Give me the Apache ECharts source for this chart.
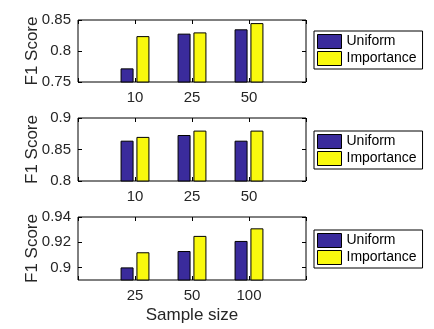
<!DOCTYPE html>
<html><head><meta charset="utf-8">
<script src="https://cdn.jsdelivr.net/npm/echarts@6/dist/echarts.min.js"></script>
<style>html,body{margin:0;padding:0;background:#fff}#c{width:434px;height:329px}</style>
</head><body><div id="c"></div>
<script>
// ---- data ----
const cats1 = ['10', '25', '50'];
const cats2 = ['10', '25', '50'];
const cats3 = ['25', '50', '100'];
const uniform1 = [0.772, 0.828, 0.835];
const importance1 = [0.824, 0.830, 0.845];
const uniform2 = [0.864, 0.873, 0.864];
const importance2 = [0.870, 0.880, 0.880];
const uniform3 = [0.900, 0.913, 0.921];
const importance3 = [0.912, 0.925, 0.931];
const yTicks1 = [0.75, 0.8, 0.85];
const yTicks2 = [0.8, 0.85, 0.9];
const yTicks3 = [0.9, 0.92, 0.94];
const yRange1 = [0.75, 0.85];
const yRange2 = [0.8, 0.9];
const yRange3 = [0.89, 0.94];
const seriesNames = ['Uniform', 'Importance'];
const yTitle = 'F1 Score';
const xTitle = 'Sample size';

const TXT = '#262626';
const FONT = 'Liberation Sans, Arial, sans-serif';
const colors = ['#3a2b9c', '#f9f90e'];
const panels = [
  {cats: cats1, u: uniform1, im: importance1, ticks: yTicks1, range: yRange1, top: 20, h: 62, legTop: 31},
  {cats: cats2, u: uniform2, im: importance2, ticks: yTicks2, range: yRange2, top: 118, h: 63, legTop: 131},
  {cats: cats3, u: uniform3, im: importance3, ticks: yTicks3, range: yRange3, top: 217, h: 63, legTop: 230}
];
const pad = a => [null].concat(a, [null]);

const grid = [], xAxis = [], yAxis = [], series = [], legend = [], graphic = [];
panels.forEach((p, i) => {
  grid.push({left: 78, top: p.top, width: 228, height: p.h, show: true, borderColor: '#000', borderWidth: 1, backgroundColor: '#fff'});
  const catData = [''].concat(p.cats, ['']);
  xAxis.push({
    type: 'category', gridIndex: i, data: catData, boundaryGap: false, position: 'bottom',
    axisLine: {show: false},
    axisTick: {show: true, inside: true, length: 4, lineStyle: {color: '#000'}},
    axisLabel: {color: TXT, fontSize: 15, fontFamily: FONT, margin: 8}
  });
  xAxis.push({
    type: 'category', gridIndex: i, data: catData, boundaryGap: false, position: 'top',
    axisLine: {show: false},
    axisTick: {show: true, inside: true, length: 4, lineStyle: {color: '#000'}},
    axisLabel: {show: false}
  });
  const yBase = {
    type: 'value', gridIndex: i, min: p.range[0], max: p.range[1],
    splitLine: {show: false}, axisLine: {show: false}
  };
  yAxis.push(Object.assign({}, yBase, {
    position: 'left',
    axisTick: {show: true, inside: true, length: 4, lineStyle: {color: '#000'}, customValues: p.ticks},
    axisLabel: {color: TXT, fontSize: 15, fontFamily: FONT, margin: 7, customValues: p.ticks}
  }));
  yAxis.push(Object.assign({}, yBase, {
    position: 'right',
    axisTick: {show: true, inside: true, length: 4, lineStyle: {color: '#000'}, customValues: p.ticks},
    axisLabel: {show: false, customValues: p.ticks}
  }));
  [p.u, p.im].forEach((vals, k) => {
    series.push({
      type: 'bar', name: seriesNames[k], xAxisIndex: 2 * i, yAxisIndex: 2 * i,
      data: pad(vals), barWidth: 13, barGap: '22%',
      itemStyle: {color: colors[k], borderColor: '#000', borderWidth: 1},
      animation: false, silent: true
    });
  });
  legend.push({
    left: 314, top: p.legTop, orient: 'vertical', data: seriesNames,
    icon: 'rect', itemWidth: 24, itemHeight: 14, itemGap: 2,
    padding: [3, 6, 3, 3], backgroundColor: '#fff', borderColor: '#000', borderWidth: 1,
    borderRadius: 0,
    textStyle: {color: '#000', fontSize: 14, fontFamily: FONT, lineHeight: 14},
    itemStyle: {borderColor: '#000', borderWidth: 1}
  });
  graphic.push({
    type: 'text', x: 32, y: p.top + p.h / 2, rotation: Math.PI / 2,
    style: {text: yTitle, fill: TXT, font: '17px ' + FONT, align: 'center', verticalAlign: 'middle'}
  });
});
graphic.push({
  type: 'text', x: 192, y: 315,
  style: {text: xTitle, fill: TXT, font: '17px ' + FONT, align: 'center', verticalAlign: 'middle'}
});

const chart = echarts.init(document.getElementById('c'), null, {renderer: 'canvas'});
chart.setOption({animation: false, backgroundColor: '#fff', grid, xAxis, yAxis, series, legend, graphic});
</script></body></html>
